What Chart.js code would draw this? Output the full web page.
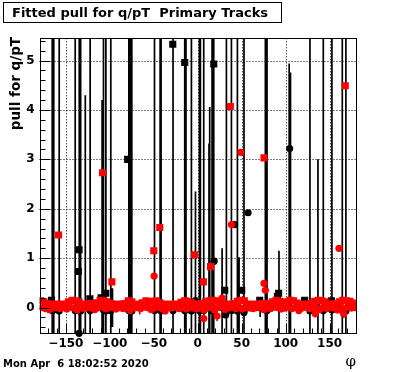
<!DOCTYPE html>
<html>
<head>
<meta charset="utf-8">
<script src="https://cdn.jsdelivr.net/npm/chart.js@4"></script>
<style>
  html, body { margin: 0; padding: 0; background: #fff; }
  canvas { display: block; }
</style>
</head>
<body>
<canvas id="c" width="396" height="372"></canvas>
<script>
"use strict";

const titleText = "Fitted pull for q/pT  Primary Tracks";
const yTitle = "pull for q/pT";
const xTitle = "\u03c6";
const dateText = "Mon Apr  6 18:02:52 2020";

const xMajorTicks = [-150, -100, -50, 0, 50, 100, 150];
const yMajorTicks = [0, 1, 2, 3, 4, 5];

// red squares: the band near zero, then the outliers
const redSquareBandPhi = [
  -179, -175, -171, -167, -163, -159, -155, -151, -147, -143,
  -139, -135, -131, -127, -123, -119, -115, -111, -107, -103,
  -99, -95, -91, -87, -83, -79, -75, -71, -67, -63,
  -59, -55, -51, -47, -43, -39, -35, -31, -27, -23,
  -19, -15, -11, -7, -3, 1, 5, 9, 13, 17,
  21, 25, 29, 33, 37, 41, 45, 49, 53, 57,
  61, 65, 69, 73, 77, 81, 85, 89, 93, 97,
  101, 105, 109, 113, 117, 121, 125, 129, 133, 137,
  141, 145, 149, 153, 157, 161, 165, 169, 173, 177,
];
const redSquareBandVal = [
  0.14, 0.12, 0.08, 0.07, 0.06, 0.07, 0.06, 0.07, 0.12, 0.15,
  0.14, 0.12, 0.07, 0.06, 0.08, 0.07, 0.10, 0.15, 0.14, 0.12,
  0.08, 0.07, 0.06, 0.07, 0.08, 0.14, 0.12, 0.07, 0.06, 0.10,
  0.14, 0.11, 0.13, 0.14, 0.10, 0.07, 0.06, 0.07, 0.06, 0.07,
  0.11, 0.14, 0.13, 0.10, 0.07, 0.06, 0.08, 0.12, 0.14, 0.15,
  0.13, 0.14, 0.08, 0.06, 0.07, 0.08, 0.13, 0.15, 0.14, 0.07,
  0.06, 0.07, 0.06, 0.08, 0.07, 0.08, 0.12, 0.15, 0.13, 0.08,
  0.12, 0.15, 0.14, 0.09, 0.07, 0.06, 0.07, 0.08, 0.13, 0.15,
  0.14, 0.12, 0.07, 0.06, 0.08, 0.12, 0.15, 0.14, 0.13, 0.09,
];
const redSquareOutPhi = [-158.3, -108.3, -97.7, -50, -43.2, -3.8, 6.4, 14.5, 37.1, 75.4, 167.8];
const redSquareOutVal = [1.47, 2.73, 0.52, 1.15, 1.62, 1.07, 0.52, 0.83, 4.07, 3.03, 4.49];

// red circles
const redCircleBandPhi = [
  -177, -173, -169, -165, -161, -157, -153, -149, -145, -141,
  -137, -133, -129, -125, -121, -117, -113, -109, -105, -101,
  -97, -93, -89, -85, -81, -77, -73, -69, -65, -61,
  -57, -53, -49, -45, -41, -37, -33, -29, -25, -21,
  -17, -13, -9, -5, -1, 3, 7, 11, 15, 19,
  23, 27, 31, 35, 39, 43, 47, 51, 55, 59,
  63, 67, 71, 75, 79, 83, 87, 91, 95, 99,
  103, 107, 111, 115, 119, 123, 127, 131, 135, 139,
  143, 147, 151, 155, 159, 163, 167, 171, 175, 179,
];
const redCircleBandVal = [
  0.00, -0.02, -0.04, -0.01, 0.01, -0.02, 0.00, -0.03, 0.01, -0.01,
  -0.05, 0.00, -0.02, 0.01, -0.01, -0.04, 0.00, 0.02, -0.02, -0.01,
  0.01, -0.03, 0.00, -0.02, 0.01, -0.06, -0.01, 0.00, -0.02, 0.01,
  0.00, -0.04, -0.01, 0.02, -0.02, -0.07, 0.00, -0.01, 0.01, -0.02,
  0.00, -0.03, 0.01, -0.01, -0.02, 0.00, -0.05, -0.01, 0.01, -0.02,
  0.00, 0.02, -0.04, -0.01, 0.01, -0.02, 0.00, -0.03, 0.01, -0.01,
  -0.02, 0.00, 0.01, -0.04, -0.01, -0.02, 0.01, 0.00, -0.03, -0.01,
  0.01, -0.02, 0.00, -0.06, -0.01, 0.01, -0.02, 0.00, -0.01, -0.04,
  0.01, -0.02, 0.00, -0.01, -0.05, 0.00, -0.02, 0.01, -0.01, 0.00,
];
const redCircleOutPhi = [-49.6, 6.8, 19, 22, 27.7, 38.3, 48.9, 75.4, 76.9, 133.7, 160.6, 166, -135, -66, -39, 131, 164];
const redCircleOutVal = [0.64, -0.22, -0.05, -0.17, 0.19, 1.68, 3.14, 0.49, 0.35, -0.12, 1.2, -0.13, 0.0, 0.0, 0.0, -0.02, 0.0];
const redCircleOutErr = [0, 0.05, 0.1, 0.1, 0.1, 0, 0, 0, 0, 0.08, 0, 0.08, 0.15, 0.14, 0.13, 0.15, 0.16];

// black squares
const blackSquarePhi = [-166.3, -135, -135.8, -122.7, -110, -104.5, -79.7, -28.4, -14.8, 18.2, 30.7, 50, 70.5, 90.6, 92, 121.6, 152];
const blackSquareVal = [0.15, 1.17, 0.73, 0.18, 0.2, 0.29, 3.0, 5.33, 4.96, 4.93, 0.35, 0.35, 0.15, 0.23, 0.29, 0.15, 0.14];

// black circles, most of them sit at zero with huge errors
const blackCirclePhi = [
  -165.5, -163.8, -157.6, -139.4, -134.8, -133.2, -122.4, -107.2, -104.5, -98.9,
  -78.4, -76.6, -75.0, -49.2, -42.8, -41.7, -28.1, -14.8, -13.4, -7.2,
  1.9, 3.0, 6.8, 16.3, 18.2, 32.6, 38.3, 45.1, 52.6, 76.9,
  78.8, 127.6, 142.8, 152.6, 164.4, 168.5,
  -127.9, -108.8, 12.8, 13.6, 104, 105.5, 136.7, -2.6, -97, 27.7, 47, 92.4, 71,
  104.5, 57.2, 42, 18.6, 31.8, 52.6, -135,
];
const blackCircleVal = [
  -0.06, -0.05, -0.07, -0.06, -0.05, -0.07, -0.06, -0.05, -0.07, -0.06,
  -0.06, -0.05, -0.07, -0.06, -0.05, -0.07, -0.06, -0.06, -0.05, -0.07,
  -0.06, -0.05, -0.06, -0.07, -0.06, -0.05, -0.06, -0.07, -0.06, -0.05,
  -0.06, -0.07, -0.06, -0.05, -0.06, -0.07,
  0.0, 0.0, 0.0, 0.0, 0.0, 0.0, 0.0, 0.14, 0.0, 0.0, 0.0, 0.0, 0.0,
  3.22, 1.92, 1.68, 0.94, -0.15, -0.1, -0.52,
];
const blackCircleErr = [
  8.6, 9.4, 7.8, 11.2, 8.1, 9.9, 10.4, 7.5, 8.8, 12.1,
  9.1, 8.3, 10.7, 7.9, 9.6, 8.4, 11.5, 9.0, 8.2, 10.1,
  7.7, 9.3, 8.9, 10.6, 9.8, 8.0, 11.0, 7.6, 9.5, 8.7,
  10.3, 9.2, 7.4, 8.5, 10.9, 9.7,
  4.3, 4.2, 3.32, 4.06, 4.94, 4.76, 3.0, 2.21, 0.39, 1.2, 1.02, 1.15, 0.19,
  0, 0, 0, 0, 0, 0, 0,
];

const pts = (phi, val) => phi.map((p, i) => ({ x: p, y: val[i] }));

const ERR_WIDTH = 1.7;

const rootPad = {
  id: "rootPad",
  beforeDatasetsDraw(chart) {
    const { ctx, chartArea: a, scales: { x, y } } = chart;
    ctx.save();
    ctx.strokeStyle = "#000";
    ctx.lineWidth = 1;
    ctx.setLineDash([1, 2]);
    ctx.beginPath();
    for (const v of xMajorTicks) {
      const px = Math.round(x.getPixelForValue(v)) + 0.5;
      ctx.moveTo(px, a.top);
      ctx.lineTo(px, a.bottom);
    }
    for (const v of yMajorTicks) {
      const py = Math.round(y.getPixelForValue(v)) + 0.5;
      ctx.moveTo(a.left, py);
      ctx.lineTo(a.right, py);
    }
    ctx.stroke();
    ctx.setLineDash([]);

    // error bars, clipped to the frame
    ctx.beginPath();
    ctx.rect(a.left, a.top, a.right - a.left, a.bottom - a.top);
    ctx.clip();
    chart.data.datasets.forEach((ds) => {
      if (!ds.errors) return;
      ctx.strokeStyle = ds.pointBackgroundColor;
      ctx.lineWidth = ERR_WIDTH;
      ctx.beginPath();
      ds.data.forEach((p, i) => {
        const e = ds.errors[i];
        if (!e) return;
        const px = x.getPixelForValue(p.x);
        ctx.moveTo(px, y.getPixelForValue(p.y + e));
        ctx.lineTo(px, y.getPixelForValue(p.y - e));
      });
      ctx.stroke();
    });
    ctx.restore();
  },
  afterDatasetsDraw(chart) {
    const { ctx, chartArea: a, scales: { x, y } } = chart;
    const L = Math.round(a.left) + 0.5, R = Math.round(a.right) + 0.5;
    const T = Math.round(a.top) + 0.5, B = Math.round(a.bottom) + 0.5;
    ctx.save();
    ctx.strokeStyle = "#000";
    ctx.lineWidth = 1;
    ctx.strokeRect(L, T, R - L, B - T);
    ctx.beginPath();
    // x ticks inside the frame, every 10 degrees
    for (let v = -180; v <= 180; v += 10) {
      const px = Math.round(x.getPixelForValue(v)) + 0.5;
      const len = xMajorTicks.includes(v) ? 10 : 5;
      ctx.moveTo(px, B);
      ctx.lineTo(px, B - len);
    }
    // y ticks inside the frame, every 0.2
    for (let k = -2; k <= 27; k++) {
      const v = k / 5;
      const py = Math.round(y.getPixelForValue(v)) + 0.5;
      const len = k % 5 === 0 ? 10 : 5;
      ctx.moveTo(L, py);
      ctx.lineTo(L + len, py);
    }
    ctx.stroke();
    ctx.restore();
  },
  afterDraw(chart) {
    const { ctx } = chart;
    ctx.save();
    // title box
    ctx.fillStyle = "#fff";
    ctx.fillRect(3, 2, 278, 20);
    ctx.strokeStyle = "#000";
    ctx.lineWidth = 1;
    ctx.strokeRect(3.5, 2.5, 278, 20);
    ctx.fillStyle = "#000";
    ctx.textBaseline = "alphabetic";
    ctx.textAlign = "left";
    ctx.font = "bold 13px 'DejaVu Sans'";
    ctx.fillText(titleText, 12, 17);

    // y title, aligned to the top of the axis
    ctx.save();
    ctx.translate(20, 37);
    ctx.rotate(-Math.PI / 2);
    ctx.textAlign = "right";
    ctx.font = "bold 13.5px 'DejaVu Sans'";
    ctx.fillText(yTitle, 0, 0);
    ctx.restore();

    // x title
    ctx.textAlign = "right";
    ctx.font = "15px 'DejaVu Serif'";
    ctx.fillText(xTitle, 356, 366);

    // date stamp
    ctx.textAlign = "left";
    ctx.font = "bold 10px 'DejaVu Sans'";
    ctx.fillText(dateText, 3, 367);
    ctx.restore();
  },
};

const tickFont = { family: "DejaVu Sans", weight: "bold", size: 12 };
const minusLabel = (v) => (v < 0 ? "\u2212" + Math.abs(v) : String(v));

new Chart(document.getElementById("c"), {
  type: "scatter",
  data: {
    datasets: [
      {
        label: "red squares",
        data: pts(redSquareBandPhi.concat(redSquareOutPhi), redSquareBandVal.concat(redSquareOutVal)),
        pointStyle: "rect",
        pointRadius: 5,
        pointBackgroundColor: "#ff0000",
        pointBorderWidth: 0,
        order: 0,
      },
      {
        label: "red circles",
        data: pts(redCircleBandPhi.concat(redCircleOutPhi), redCircleBandVal.concat(redCircleOutVal)),
        errors: redCircleBandPhi.map(() => 0).concat(redCircleOutErr),
        pointStyle: "circle",
        pointRadius: 3.6,
        pointBackgroundColor: "#ff0000",
        pointBorderWidth: 0,
        order: 1,
      },
      {
        label: "black squares",
        data: pts(blackSquarePhi, blackSquareVal),
        pointStyle: "rect",
        pointRadius: 5,
        pointBackgroundColor: "#000000",
        pointBorderWidth: 0,
        order: 2,
      },
      {
        label: "black circles",
        data: pts(blackCirclePhi, blackCircleVal),
        errors: blackCircleErr,
        pointStyle: "circle",
        pointRadius: 3.6,
        pointBackgroundColor: "#000000",
        pointBorderWidth: 0,
        clip: false,
        order: 3,
      },
    ],
  },
  options: {
    responsive: false,
    animation: false,
    events: [],
    layout: { padding: { top: 38.3, right: 40, left: 0, bottom: 0 } },
    plugins: { legend: { display: false }, tooltip: { enabled: false }, title: { display: false } },
    scales: {
      x: {
        type: "linear",
        min: -180,
        max: 180,
        grid: { display: false, drawTicks: false },
        border: { display: false },
        afterBuildTicks: (s) => { s.ticks = xMajorTicks.map((v) => ({ value: v })); },
        afterFit: (s) => { s.height = 38.7; },
        ticks: {
          autoSkip: false,
          maxRotation: 0,
          padding: 3,
          color: "#000",
          font: tickFont,
          callback: minusLabel,
        },
      },
      y: {
        type: "linear",
        min: -0.52,
        max: 5.45,
        grid: { display: false, drawTicks: false },
        border: { display: false },
        afterBuildTicks: (s) => { s.ticks = yMajorTicks.map((v) => ({ value: v })); },
        afterFit: (s) => { s.width = 39.5; },
        ticks: {
          autoSkip: false,
          padding: 5,
          color: "#000",
          font: tickFont,
          callback: minusLabel,
        },
      },
    },
  },
  plugins: [rootPad],
});
</script>
</body>
</html>
